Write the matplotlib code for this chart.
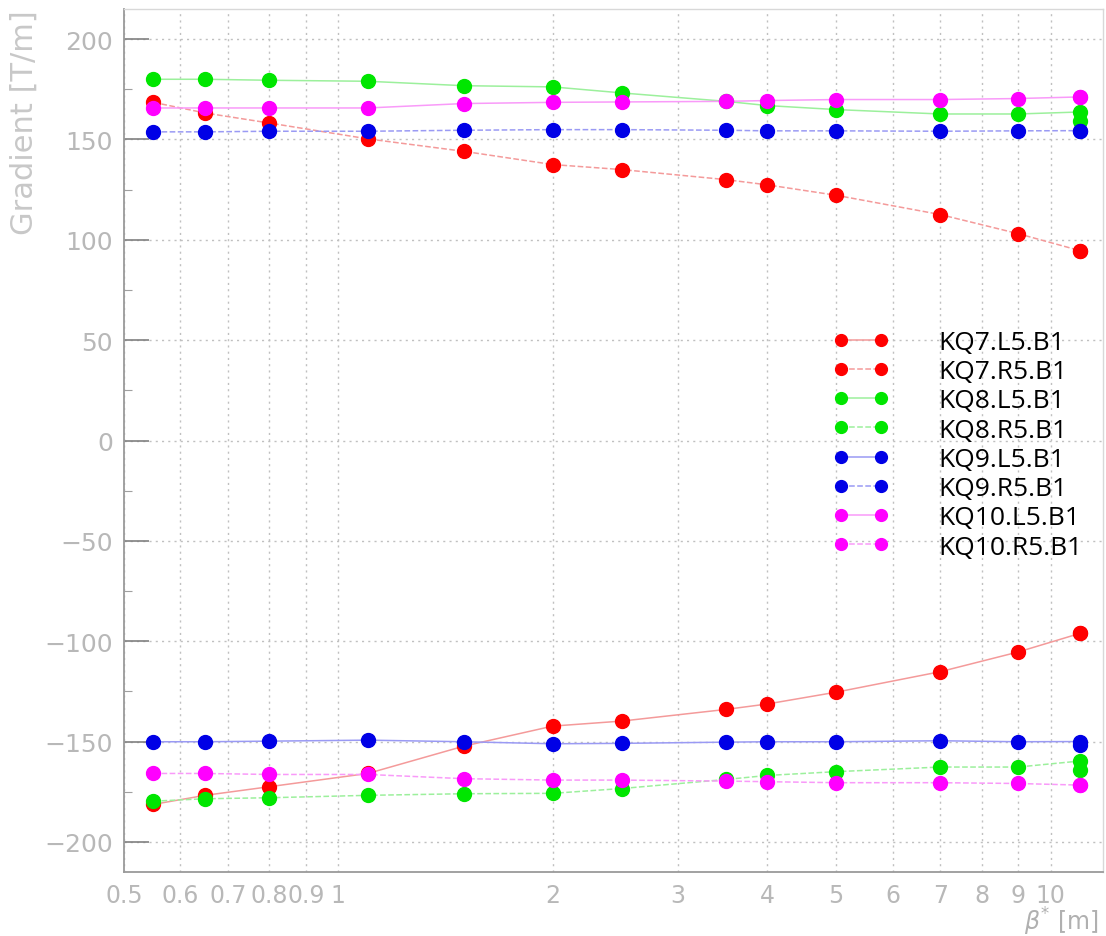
import numpy as np
import matplotlib
matplotlib.use("Agg")
import matplotlib.pyplot as plt
from matplotlib.ticker import FixedLocator, FixedFormatter, MultipleLocator, NullLocator

# beta* scan points (last optics point appears twice)
beta = [0.55, 0.65, 0.8, 1.1, 1.5, 2.0, 2.5, 3.5, 4.0, 5.0, 7.0, 9.0, 11.0, 11.0]

# quadrupole gradients [T/m]
kq7_l5 = [-181.3, -176.8, -172.5, -165.9, -152.3, -142.3, -139.8, -134.0, -131.3, -125.4, -115.2, -105.4, -96.1, -96.1]
kq7_r5 = [168.5, 163.2, 158.2, 150.3, 144.1, 137.5, 135.0, 130.0, 127.4, 122.2, 112.6, 103.1, 94.6, 94.6]
kq8_l5 = [180.0, 180.0, 179.5, 179.0, 176.8, 176.2, 173.2, 169.0, 166.9, 164.9, 162.7, 162.7, 163.7, 159.0]
kq8_r5 = [-179.7, -178.5, -178.0, -176.8, -176.0, -175.8, -173.4, -168.9, -166.9, -165.0, -162.7, -162.7, -159.7, -164.2]
kq9_l5 = [-150.1, -150.1, -149.8, -149.3, -150.1, -151.1, -150.9, -150.3, -150.1, -150.1, -149.6, -150.1, -150.0, -151.6]
kq9_r5 = [153.8, 153.8, 154.1, 154.1, 154.6, 154.9, 154.9, 154.6, 154.3, 154.3, 154.1, 154.3, 154.4, 154.4]
kq10_l5 = [165.7, 165.7, 165.7, 165.7, 167.9, 168.5, 168.7, 169.0, 169.4, 169.9, 169.9, 170.4, 171.2, 171.2]
kq10_r5 = [-165.9, -165.9, -166.4, -166.4, -168.5, -169.2, -169.2, -169.7, -170.0, -170.5, -170.5, -170.9, -171.7, -171.7]

series = [
    ("KQ7.L5.B1", kq7_l5, "#ff0000", "#f49a9a", "-"),
    ("KQ7.R5.B1", kq7_r5, "#ff0000", "#f49a9a", "--"),
    ("KQ8.L5.B1", kq8_l5, "#00e600", "#9cf09c", "-"),
    ("KQ8.R5.B1", kq8_r5, "#00e600", "#9cf09c", "--"),
    ("KQ9.L5.B1", kq9_l5, "#0000e6", "#9a9af4", "-"),
    ("KQ9.R5.B1", kq9_r5, "#0000e6", "#9a9af4", "--"),
    ("KQ10.L5.B1", kq10_l5, "#ff00ff", "#f99af9", "-"),
    ("KQ10.R5.B1", kq10_r5, "#ff00ff", "#f99af9", "--"),
]

xticks = [0.5, 0.6, 0.7, 0.8, 0.9, 1, 2, 3, 4, 5, 6, 7, 8, 9, 10]
xticklabels = ["0.5", "0.6", "0.7", "0.8", "0.9", "1", "2", "3", "4", "5", "6", "7", "8", "9", "10"]

tick_grey = "#b8b8b8"

fig = plt.figure(figsize=(11.06, 9.37), dpi=100)
ax = fig.add_axes([0.1121, 0.0683, 0.8852, 0.9210])

handles = []
for name, vals, mcol, lcol, ls in series:
    ax.plot(beta, vals, ls=ls, color=lcol, lw=1.1, zorder=2)
    ax.plot(beta, vals, ls="none", marker="o", ms=10, color=mcol, mec=mcol, zorder=3)
    # legend proxy: thin line with marker at both ends
    h, = ax.plot([], [], ls=ls, color=lcol, lw=1.1, marker="o", ms=8.5,
                 mfc=mcol, mec=mcol, label=name)
    handles.append(h)

ax.set_xscale("log")
ax.set_xlim(0.5, 11.85)
ax.set_ylim(-215, 215)

ax.xaxis.set_major_locator(FixedLocator(xticks))
ax.xaxis.set_major_formatter(FixedFormatter(xticklabels))
ax.xaxis.set_minor_locator(NullLocator())
ax.yaxis.set_major_locator(MultipleLocator(50))
ax.yaxis.set_minor_locator(MultipleLocator(25))

ax.grid(True, which="major", ls=(0, (1.5, 3)), color="#c0c0c0", lw=1.0)
ax.tick_params(axis="x", length=0, pad=8, labelsize=17, labelcolor=tick_grey)
ax.tick_params(axis="y", which="major", direction="in", length=18, width=1.2,
               color="#808080", pad=8, labelsize=18, labelcolor=tick_grey)
ax.tick_params(axis="y", which="minor", direction="in", length=6, width=0.8, color="#a0a0a0")

for side in ["left", "bottom"]:
    ax.spines[side].set_color("#9a9a9a")
    ax.spines[side].set_linewidth(1.3)
for side in ["top", "right"]:
    ax.spines[side].set_color("#d8d8d8")
    ax.spines[side].set_linewidth(1.0)

ax.set_ylabel("Gradient [T/m]", loc="top", fontsize=22, color="#c8c8c8", labelpad=4)
ax.set_xlabel(r"$\beta^{*}$ [m]", fontsize=17, color="#b0b0b0", ha="right", va="top")
ax.xaxis.set_label_coords(0.996, -0.0385)

leg = fig.legend(handles=handles, loc="upper left", bbox_to_anchor=(833 / 1106, 1 - 331 / 937),
                 frameon=False, numpoints=2, handlelength=2.1, handletextpad=1.9,
                 labelspacing=0.16, borderpad=0, borderaxespad=0,
                 prop={"family": "Open Sans", "size": 19})

fig.savefig("out.png", dpi=100)
